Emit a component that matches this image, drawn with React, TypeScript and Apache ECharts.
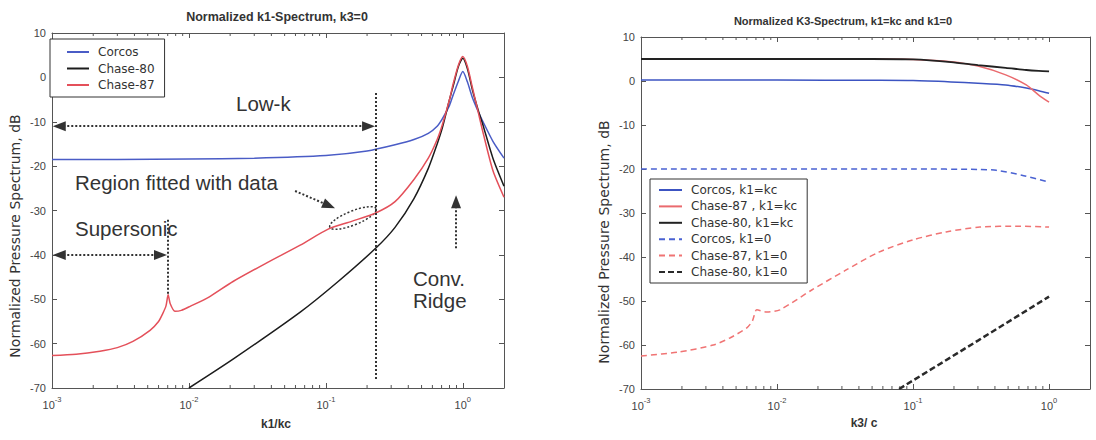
import { useEffect, useRef } from 'react';
import * as echarts from 'echarts';

// ---------- Left panel: normalized k1-spectrum, k3 = 0 ----------
const kCorcos = [0.001, 0.003, 0.01, 0.03, 0.1, 0.2, 0.32, 0.44, 0.56, 0.65, 0.71, 0.8, 0.85, 0.93, 1.0, 1.08, 1.18, 1.3, 1.4, 1.66, 2.0];
const dbCorcos = [-18.5, -18.5, -18.4, -18.2, -17.6, -16.6, -15.2, -14.0, -12.6, -11.0, -9.3, -6.3, -4.0, -0.8, 1.3, -1.0, -4.7, -7.8, -9.9, -14.4, -18.2];

const kChase80 = [0.01, 0.021, 0.065, 0.123, 0.233, 0.32, 0.44, 0.56, 0.65, 0.71, 0.8, 0.85, 0.93, 1.0, 1.08, 1.18, 1.3, 1.4, 1.66, 2.0];
const dbChase80 = [-70, -63.5, -52.9, -46, -38.4, -33.8, -27.3, -20.5, -15, -11.3, -5, -2, 2.5, 4.3, 2, -3, -7.5, -10.6, -18.2, -24.5];

const kChase87 = [0.001, 0.0015, 0.00224, 0.003, 0.0039, 0.0052, 0.006, 0.0064, 0.0068, 0.00705, 0.0073, 0.0079, 0.0088, 0.0102, 0.014, 0.021, 0.037, 0.065, 0.104, 0.156, 0.233, 0.32, 0.44, 0.56, 0.65, 0.71, 0.8, 0.85, 0.93, 1.0, 1.08, 1.18, 1.3, 1.4, 1.66, 2.0];
const dbChase87 = [-62.7, -62.4, -61.7, -60.9, -59.5, -57, -55, -53.4, -51.5, -49, -51, -52.7, -52.5, -51.6, -49.5, -46, -41.8, -37.8, -34.2, -32.4, -30.5, -28.0, -23.0, -18.2, -14.0, -10.6, -5, -1.5, 2.8, 4.7, 2.5, -2.5, -8, -12.2, -21, -27];

// ---------- Right panel: normalized k3-spectrum ----------
const k3Solid = [0.001, 0.01, 0.05, 0.1, 0.19, 0.3, 0.48, 0.68, 0.84, 1.0];
const dbCorcosKc = [0.2, 0.2, 0.15, 0.1, -0.2, -0.5, -0.9, -1.6, -2.2, -2.8];
const dbChase87Kc = [5, 5, 5, 4.9, 4.4, 3.4, 1.4, -0.9, -3.2, -4.8];
const dbChase80Kc = [5, 5, 5, 4.9, 4.3, 3.6, 3.0, 2.5, 2.3, 2.2];

const k3Corcos0 = [0.001, 0.1, 0.3, 0.41, 0.63, 1.0];
const dbCorcos0 = [-20, -20, -20.1, -20.3, -21.4, -23];

const k3Chase87_0 = [0.001, 0.0019, 0.0034, 0.0045, 0.006, 0.0066, 0.0071, 0.0084, 0.0105, 0.018, 0.032, 0.056, 0.1, 0.175, 0.31, 0.6, 1.0];
const dbChase87_0 = [-62.5, -61.6, -60, -58.4, -56.1, -54.5, -52, -52.5, -52, -47.5, -43, -38.9, -36.1, -34.3, -33.2, -33, -33.2];

const k3Chase80_0 = [0.079, 0.3, 1.0];
const dbChase80_0 = [-70, -59, -49];

// axis tick positions
const minorTicks = [0.002, 0.003, 0.004, 0.005, 0.006, 0.007, 0.008, 0.009, 0.02, 0.03, 0.04, 0.05, 0.06, 0.07, 0.08, 0.09, 0.2, 0.3, 0.4, 0.5, 0.6, 0.7, 0.8, 0.9];

// annotation anchor points (data coordinates of left panel)
const lowKArrow = [[0.00113, -11], [0.205, -11]];
const lowKBar = [[0.233, -3.5], [0.233, -68.2]];
const superArrow = [[0.00113, -40], [0.0062, -40]];
const superBar = [[0.00703, -32.1], [0.00703, -49]];
const regionArrow = [[0.0596, -25.6], [0.1055, -28.9]];
const ridgeArrow = [[0.893, -38.5], [0.893, -28.0]];

const ARIAL = 'Liberation Sans';
const DEJAVU = 'DejaVu Sans';
const AXIS_COLOR = '#555';
const TEXT = '#333';

const zip = (xs: number[], ys: number[]) => xs.map((x, i) => [x, ys[i]]);

const logAxis = (gridIndex: number, position: string, showLabel: boolean) => ({
  type: 'log',
  logBase: 10,
  gridIndex,
  position,
  min: 0.001,
  max: 2,
  axisLine: { show: true, onZero: false, lineStyle: { color: AXIS_COLOR, width: 1 } },
  axisTick: { show: true, inside: true, length: 5, lineStyle: { color: AXIS_COLOR } },
  axisLabel: showLabel
    ? {
        margin: 7,
        formatter: (v: number) => {
          const e = Math.log10(v);
          const r = Math.round(e);
          if (Math.abs(e - r) > 1e-6) return '';
          return `{b|10}{s|${r}}`;
        },
        rich: {
          b: { fontSize: 11, fontFamily: ARIAL, color: '#444', lineHeight: 15, verticalAlign: 'bottom' },
          s: { fontSize: 7.5, fontFamily: ARIAL, color: '#444', lineHeight: 15, verticalAlign: 'top' },
        },
      }
    : { show: false },
  splitLine: { show: false },
  minorTick: { show: false },
});

const dbAxis = (gridIndex: number, position: string, showLabel: boolean) => ({
  type: 'value',
  gridIndex,
  position,
  min: -70,
  max: 10,
  interval: 10,
  axisLine: { show: true, onZero: false, lineStyle: { color: AXIS_COLOR, width: 1 } },
  axisTick: { show: true, inside: true, length: 5, lineStyle: { color: AXIS_COLOR } },
  axisLabel: showLabel ? { fontSize: 11, fontFamily: ARIAL, color: '#444', margin: 6 } : { show: false },
  splitLine: { show: false },
});

const minorTickSeries = (xi: number, yi: number) => ({
  type: 'custom',
  name: 'minor' + xi,
  xAxisIndex: xi,
  yAxisIndex: yi,
  silent: true,
  clip: false,
  data: minorTicks.map((k) => [k, -70]),
  renderItem: (_p: any, api: any) => {
    const k = api.value(0);
    const b = api.coord([k, -70]);
    const t = api.coord([k, 10]);
    return {
      type: 'group',
      children: [
        { type: 'line', shape: { x1: b[0], y1: b[1], x2: b[0], y2: b[1] - 3 }, style: { stroke: AXIS_COLOR, lineWidth: 1 } },
        { type: 'line', shape: { x1: t[0], y1: t[1], x2: t[0], y2: t[1] + 3 }, style: { stroke: AXIS_COLOR, lineWidth: 1 } },
      ],
    };
  },
});

const dotted = { type: [2, 2], width: 2, color: '#333' };
const arrowLine = (pts: number[][], startSym: string, endSym: string) => [
  { coord: pts[0], symbol: startSym, symbolSize: [10, 13], lineStyle: dotted },
  { coord: pts[1], symbol: endSym, symbolSize: [10, 13] },
];

const text = (
  x: number,
  y: number,
  str: string,
  size: number,
  opts: { align?: string; weight?: string; family?: string; rotation?: number } = {}
) => ({
  type: 'text',
  x,
  y,
  rotation: opts.rotation || 0,
  silent: true,
  style: {
    text: str,
    fontSize: size,
    fontFamily: opts.family || ARIAL,
    fontWeight: opts.weight || 'normal',
    fill: TEXT,
    align: opts.align || 'left',
    textAlign: opts.align || 'left',
    verticalAlign: 'middle',
    textVerticalAlign: 'middle',
  },
});

const legendBase = {
  orient: 'vertical',
  itemHeight: 12,
  backgroundColor: '#fff',
  borderColor: '#333',
  borderWidth: 1,
  borderRadius: 0,
  selectedMode: false,
  itemStyle: { color: 'rgba(0,0,0,0)', borderWidth: 0, opacity: 0 },
  textStyle: { fontSize: 12, fontFamily: DEJAVU, color: TEXT, padding: [0, 0, 0, 4] },
};

export default function App() {
  const ref = useRef<HTMLDivElement>(null);

  useEffect(() => {
    if (!ref.current) return;
    const chart = echarts.init(ref.current, undefined, { renderer: 'svg' });

    const line = (name: string, xi: number, xs: number[], ys: number[], color: string, width: number, type: any = 'solid', smooth = 0.25) => ({
      name,
      type: 'line',
      xAxisIndex: xi,
      yAxisIndex: xi,
      data: zip(xs, ys),
      showSymbol: false,
      symbol: 'none',
      smooth,
      lineStyle: { color, width, type },
      itemStyle: { color },
    });

    const option: any = {
      animation: false,
      backgroundColor: '#ffffff',
      textStyle: { fontFamily: ARIAL },
      grid: [
        { left: 52, top: 33, width: 452, height: 355 },
        { left: 641, top: 37, width: 449, height: 352 },
      ],
      xAxis: [logAxis(0, 'bottom', true), logAxis(0, 'top', false), logAxis(1, 'bottom', true), logAxis(1, 'top', false)],
      yAxis: [dbAxis(0, 'left', true), dbAxis(0, 'right', false), dbAxis(1, 'left', true), dbAxis(1, 'right', false)],
      legend: [
        {
          ...legendBase,
          data: ['Corcos', 'Chase-80', 'Chase-87'],
          left: 50,
          top: 39,
          padding: [7, 10, 6, 16],
          itemWidth: 22,
          itemGap: 4.5,
        },
        {
          ...legendBase,
          data: ['Corcos, k1=kc', 'Chase-87 , k1=kc', 'Chase-80, k1=kc', 'Corcos, k1=0', 'Chase-87, k1=0', 'Chase-80, k1=0'],
          left: 650,
          top: 179,
          padding: [5, 10, 5, 8],
          itemWidth: 23,
          itemGap: 4.4,
        },
      ],
      series: [
        minorTickSeries(0, 0),
        minorTickSeries(2, 2),
        {
          ...line('Corcos', 0, kCorcos, dbCorcos, '#4a5cc6', 1.5),
          markLine: {
            silent: true,
            animation: false,
            label: { show: false },
            lineStyle: dotted,
            emphasis: { disabled: true },
            data: [
              arrowLine(lowKArrow, 'triangle', 'triangle'),
              arrowLine(lowKBar, 'none', 'none'),
              arrowLine(superArrow, 'triangle', 'triangle'),
              arrowLine(superBar, 'none', 'none'),
              arrowLine(regionArrow, 'none', 'triangle'),
              arrowLine(ridgeArrow, 'none', 'triangle'),
            ],
          },
        },
        line('Chase-80', 0, kChase80, dbChase80, '#1c1c1c', 1.5),
        line('Chase-87', 0, kChase87, dbChase87, '#e4505a', 1.5),
        line('Corcos, k1=kc', 2, k3Solid, dbCorcosKc, '#3c54c2', 1.5),
        line('Chase-87 , k1=kc', 2, k3Solid, dbChase87Kc, '#ea6a6e', 1.5),
        line('Chase-80, k1=kc', 2, k3Solid, dbChase80Kc, '#222', 1.8),
        line('Corcos, k1=0', 2, k3Corcos0, dbCorcos0, '#4a62d2', 1.5, [6, 4]),
        line('Chase-87, k1=0', 2, k3Chase87_0, dbChase87_0, '#f07474', 1.5, [6, 4]),
        line('Chase-80, k1=0', 2, k3Chase80_0, dbChase80_0, '#2a2a2a', 2.5, [6, 3], 0),
      ],
      graphic: [
        text(277, 17, 'Normalized k1-Spectrum, k3=0', 12.5, { align: 'center', weight: 'bold' }),
        text(843, 21, 'Normalized K3-Spectrum, k1=kc and k1=0', 11, { align: 'center', weight: 'bold' }),
        text(15, 236, 'Normalized Pressure Spectrum, dB', 14, { align: 'center', family: DEJAVU, rotation: Math.PI / 2 }),
        text(604, 242, 'Normalized Pressure Spectrum, dB', 14, { align: 'center', family: DEJAVU, rotation: Math.PI / 2 }),
        text(276, 424, 'k1/kc', 12, { align: 'center', weight: 'bold' }),
        text(864, 423, 'k3/ c', 12, { align: 'center', weight: 'bold' }),
        text(236, 103, 'Low-k', 20.5),
        text(75, 182, 'Region fitted with data', 20.5),
        text(75, 228, 'Supersonic', 20.5),
        text(413, 278, 'Conv.', 20.5),
        text(413, 300, 'Ridge', 20.5),
        {
          type: 'ellipse',
          x: 353,
          y: 218,
          rotation: 0.38,
          silent: true,
          shape: { cx: 0, cy: 0, rx: 25, ry: 7 },
          style: { fill: 'none', stroke: '#333', lineWidth: 1.5, lineDash: [2, 2] },
        },
      ],
    };

    chart.setOption(option);
    return () => chart.dispose();
  }, []);

  return (
    <div
      ref={ref}
      style={{ position: 'absolute', left: 0, top: 0, width: 1096, height: 440, background: '#fff' }}
    />
  );
}
